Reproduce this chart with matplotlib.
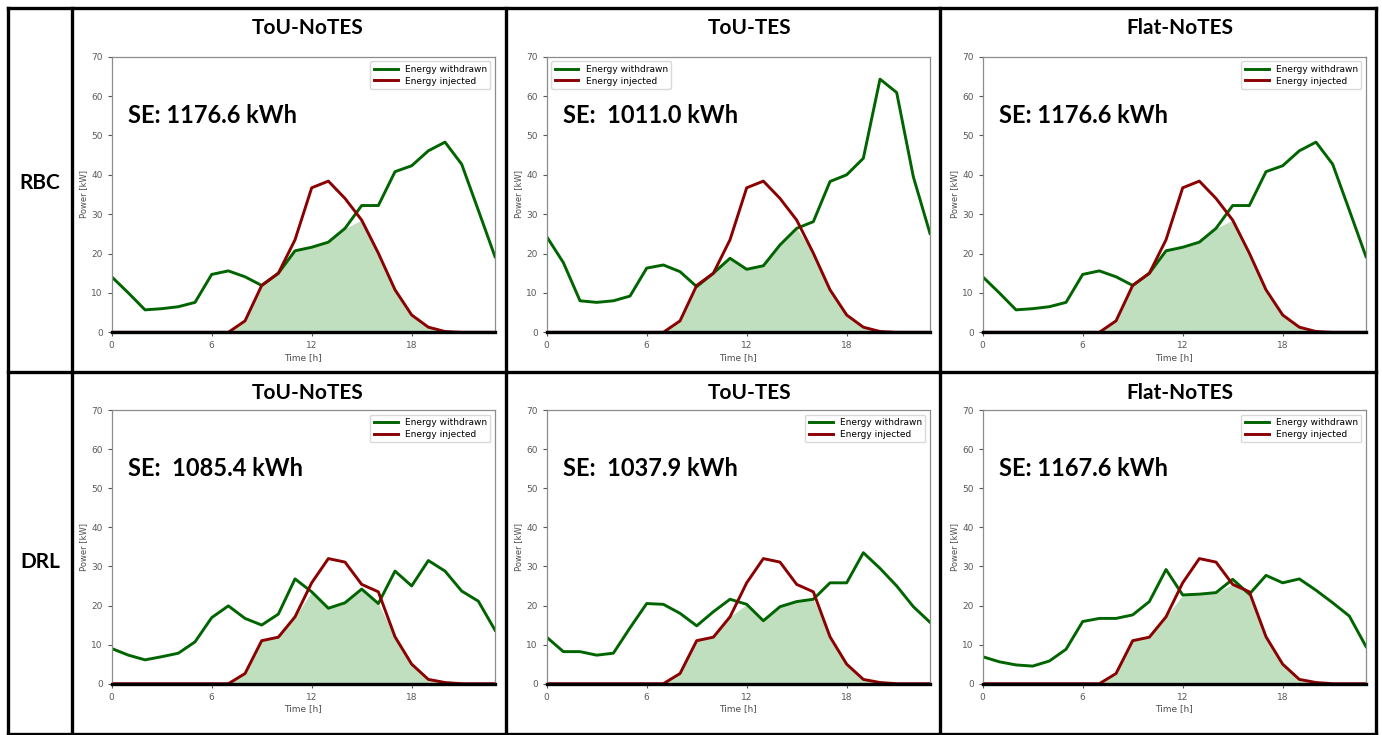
import matplotlib.pyplot as plt
import numpy as np
from matplotlib.lines import Line2D

W, H = 1382, 735

hours = np.arange(24)

# Grid withdrawal [kW], one array per case
rbc_tou_notes = [14.1, 10.0, 5.7, 6.0, 6.5, 7.6, 14.7, 15.6, 14.1, 11.9, 15.0, 20.7,
                 21.6, 22.9, 26.4, 32.2, 32.2, 40.8, 42.3, 46.1, 48.3, 42.7, 31.0, 19.2]
rbc_tou_tes = [24.3, 17.7, 8.0, 7.6, 8.0, 9.2, 16.3, 17.1, 15.4, 11.6, 15.0, 18.8,
               16.0, 16.9, 22.2, 26.4, 28.1, 38.3, 40.0, 44.2, 64.3, 60.9, 39.5, 25.1]
rbc_flat_notes = [14.1, 10.0, 5.7, 6.0, 6.5, 7.6, 14.7, 15.6, 14.1, 11.9, 15.0, 20.7,
                  21.6, 22.9, 26.4, 32.2, 32.2, 40.8, 42.3, 46.1, 48.3, 42.7, 31.0, 19.2]
drl_tou_notes = [9.0, 7.3, 6.1, 6.9, 7.8, 10.7, 16.9, 19.9, 16.7, 15.0, 17.8, 26.8,
                 23.5, 19.3, 20.7, 24.2, 20.5, 28.8, 25.0, 31.5, 28.8, 23.7, 21.1, 13.7]
drl_tou_tes = [11.9, 8.2, 8.2, 7.3, 7.8, 14.3, 20.5, 20.3, 18.0, 14.8, 18.4, 21.6,
               20.3, 16.1, 19.7, 21.0, 21.6, 25.8, 25.8, 33.5, 29.5, 25.0, 19.7, 15.7]
drl_flat_notes = [6.9, 5.6, 4.8, 4.5, 5.8, 8.8, 15.9, 16.7, 16.7, 17.6, 21.0, 29.2,
                  22.7, 22.9, 23.3, 26.7, 22.9, 27.7, 25.8, 26.8, 23.9, 20.7, 17.3, 9.5]

# PV injection [kW]
inj_rbc = [0, 0, 0, 0, 0, 0, 0, 0, 2.9, 11.9, 15.0, 23.5,
           36.7, 38.4, 34.0, 28.5, 20.1, 10.8, 4.4, 1.3, 0.2, 0, 0, 0]
inj_drl = [0, 0, 0, 0, 0, 0, 0, 0, 2.6, 11.0, 11.9, 17.1,
           25.8, 32.0, 31.1, 25.4, 23.5, 12.0, 5.0, 1.1, 0.3, 0, 0, 0]

strategies = ["RBC", "DRL"]
cases = ["ToU-NoTES", "ToU-TES", "Flat-NoTES"]
withdrawn = [[rbc_tou_notes, rbc_tou_tes, rbc_flat_notes],
             [drl_tou_notes, drl_tou_tes, drl_flat_notes]]
injected = [inj_rbc, inj_drl]
se_labels = [["SE: 1176.6 kWh", "SE:  1011.0 kWh", "SE: 1176.6 kWh"],
             ["SE:  1085.4 kWh", "SE:  1037.9 kWh", "SE: 1167.6 kWh"]]
legend_loc = [["upper right", "upper left", "upper right"],
              ["upper right", "upper right", "upper right"]]

BOLD = ["Lato", "DejaVu Sans"]

fig = plt.figure(figsize=(W / 100, H / 100), dpi=100)

# axes boxes in pixels: (left, top, width, height)
col_left = [111.7, 546.7, 982.7]
row_top = [56.7, 410.0]
row_h = [275.6, 273.7]
ax_w = 383.3
title_x = [308, 750, 1180]
title_y = [28, 393]
label_y = [183, 562]

for r in range(2):
    fig.text(40 / W, 1 - label_y[r] / H, strategies[r], ha="center", va="center",
             fontsize=15, fontweight="bold", family=BOLD)
    for c in range(3):
        left = col_left[c] / W
        bottom = 1 - (row_top[r] + row_h[r]) / H
        ax = fig.add_axes([left, bottom, ax_w / W, row_h[r] / H])

        w = np.array(withdrawn[r][c])
        inj = np.array(injected[r])
        shared = np.minimum(w, inj)

        ax.fill_between(hours, 0, shared, color="green", alpha=0.25, lw=0)
        ax.plot(hours, w, color="darkgreen", lw=2.1, label="Energy withdrawn")
        ax.plot(hours, inj, color="darkred", lw=2.1, label="Energy injected")
        # zero baseline drawn over the idle part of the injection curve
        ax.axhline(0, color="black", lw=2.4, zorder=4, clip_on=False)

        ax.set_xlim(0, 23)
        ax.set_ylim(0, 70)
        ax.set_xticks([0, 6, 12, 18])
        ax.set_yticks(range(0, 71, 10))
        ax.tick_params(labelsize=6.5, colors="0.35", length=3, width=0.8)
        for s in ax.spines.values():
            s.set_color("0.55")
            s.set_linewidth(0.9)
        ax.set_xlabel("Time [h]", fontsize=6.5, color="0.3", labelpad=2)
        ax.set_ylabel("Power [kW]", fontsize=6, color="0.3", labelpad=2)

        ax.legend(loc=legend_loc[r][c], fontsize=6.5, handlelength=2.6,
                  framealpha=1, edgecolor="0.85", borderpad=0.4,
                  labelspacing=0.3)
        ax.text(1.0, 55, se_labels[r][c], fontsize=17, fontweight="bold",
                family=BOLD, ha="left", va="center")

        fig.text(title_x[c] / W, 1 - title_y[r] / H, cases[c], ha="center",
                 va="center", fontsize=15, fontweight="bold", family=BOLD)

# table frame around the grid of panels
frame = dict(color="black", lw=2.4, transform=fig.transFigure, solid_capstyle="projecting")
for x in [8, 72, 506, 940, 1376]:
    fig.add_artist(Line2D([x / W, x / W], [1 - 8 / H, 1 - 734 / H], **frame))
for y in [8, 372, 734]:
    fig.add_artist(Line2D([8 / W, 1376 / W], [1 - y / H, 1 - y / H], **frame))

fig.savefig("out.png", dpi=100)
